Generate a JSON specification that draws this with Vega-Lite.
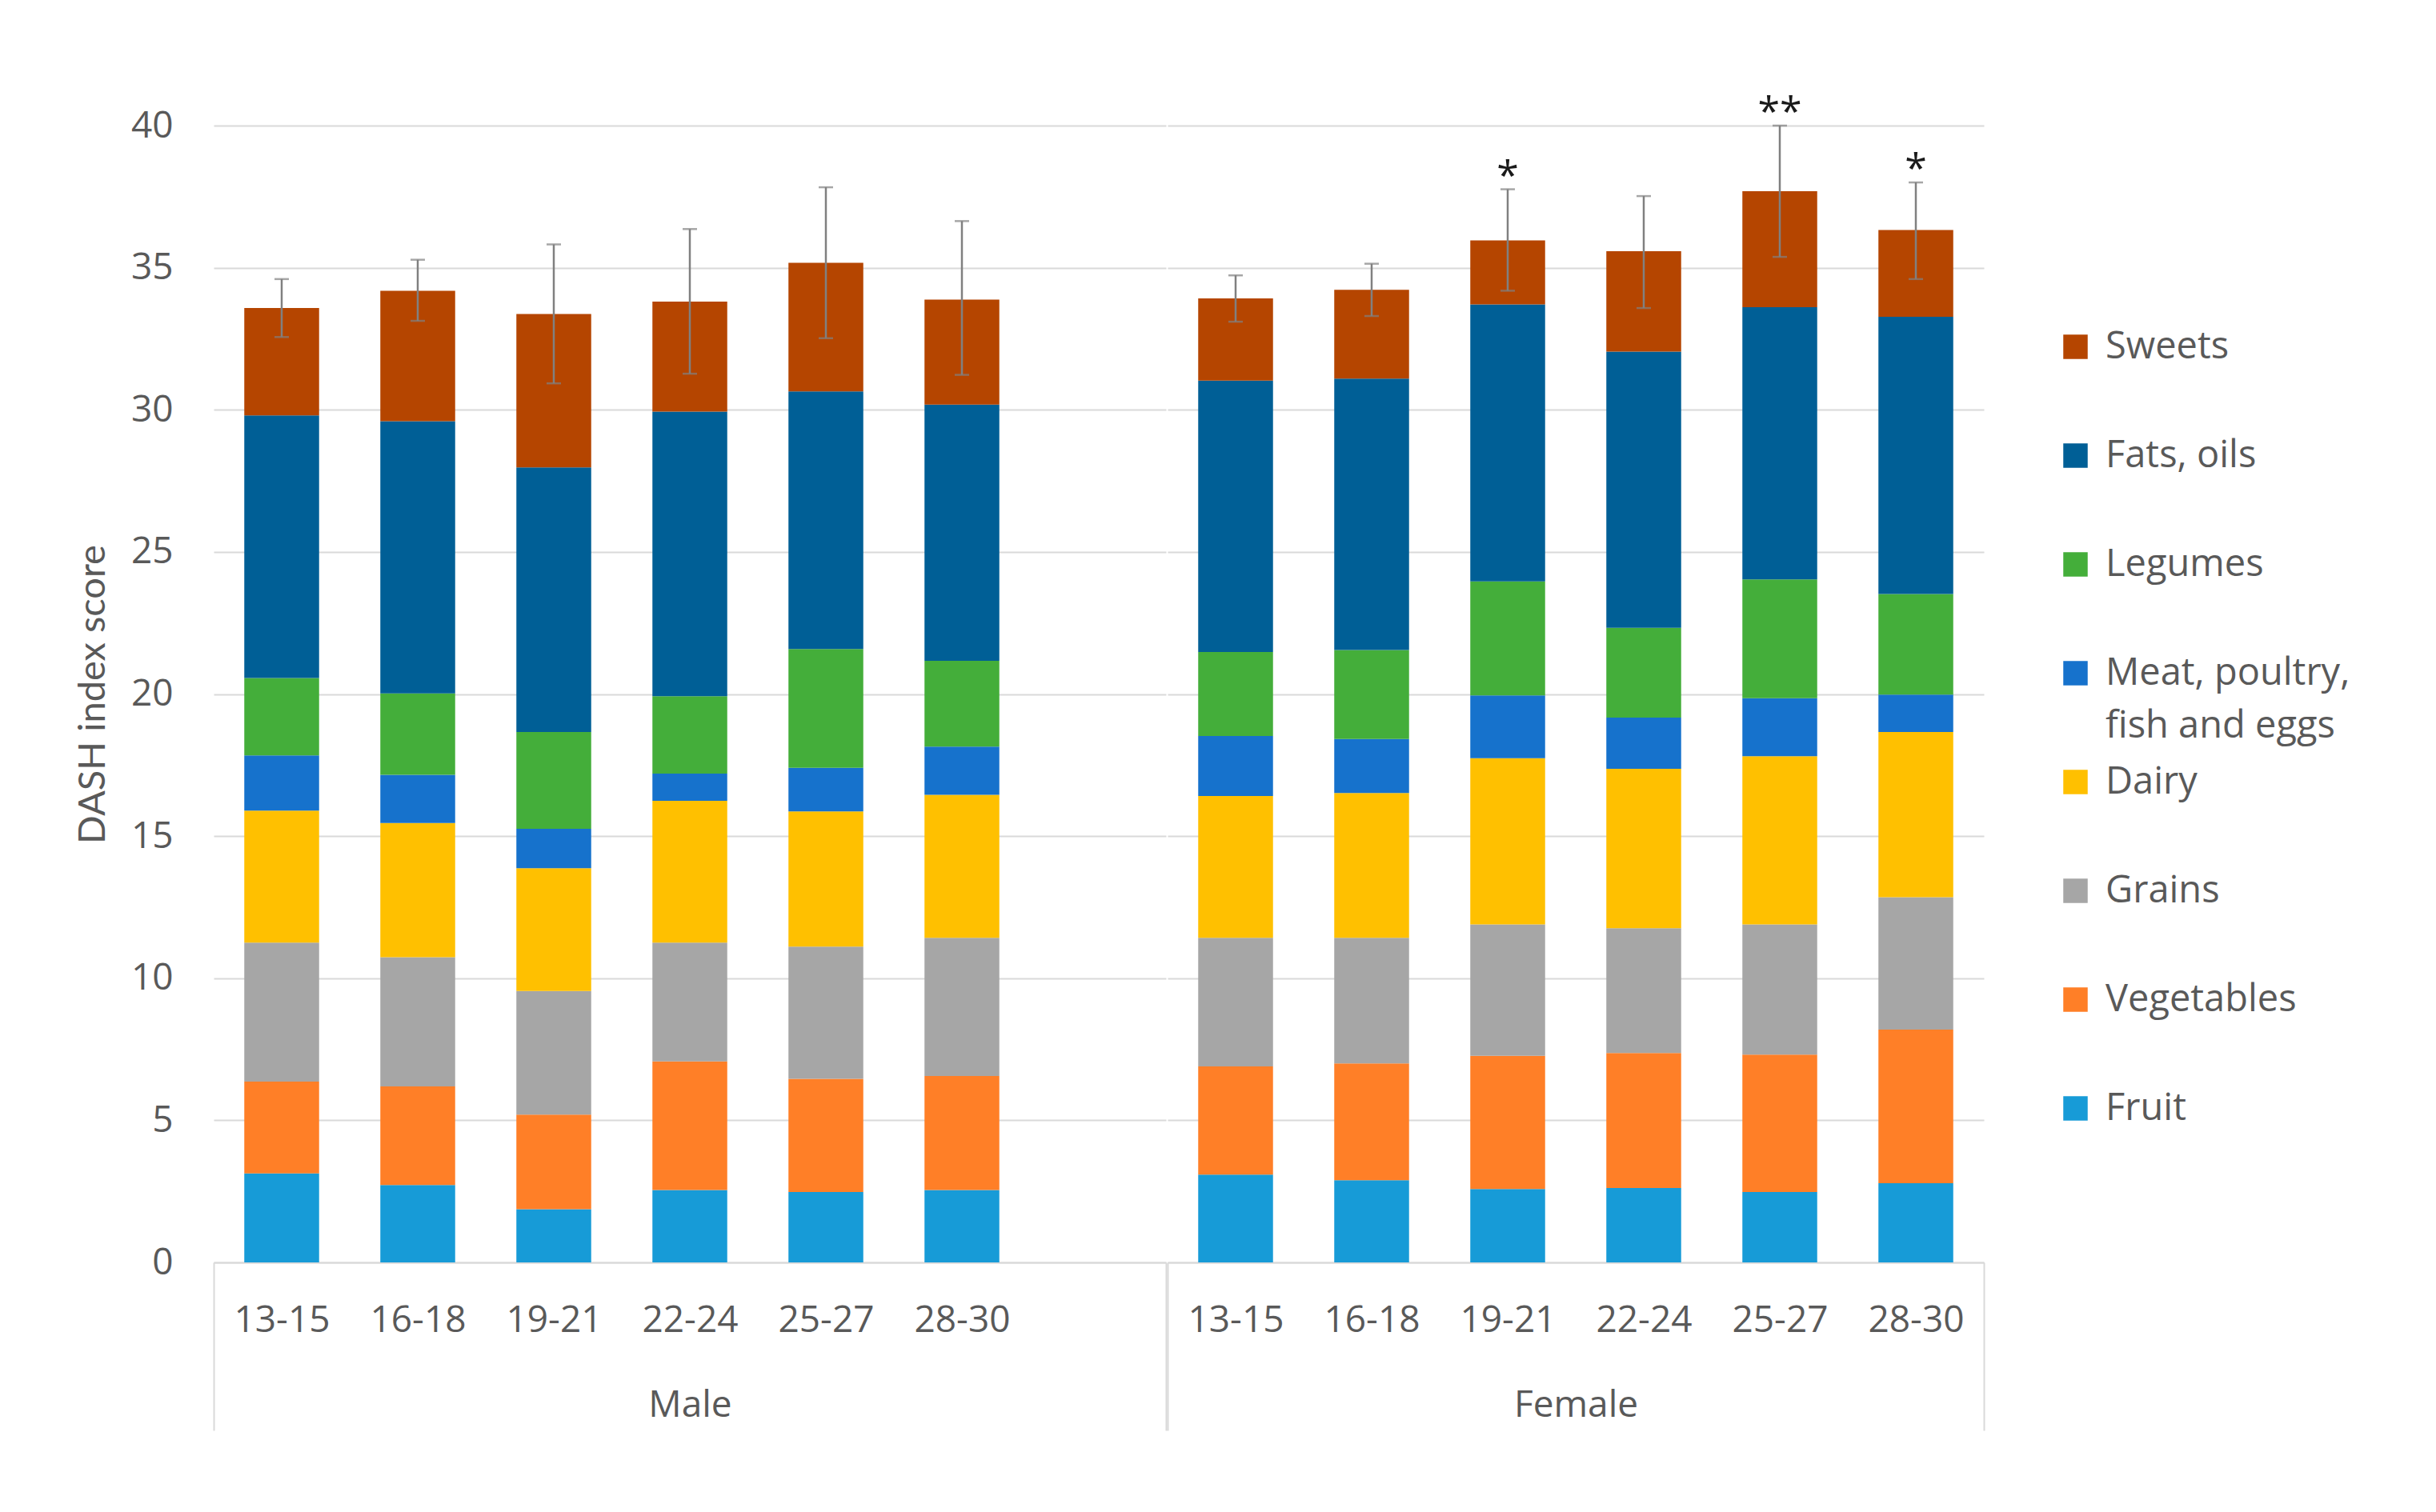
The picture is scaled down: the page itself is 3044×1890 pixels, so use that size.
{
  "$schema": "https://vega.github.io/schema/vega-lite/v6.json",
  "background": "white",
  "padding": {"left": 92, "top": 117, "right": 0, "bottom": 0},
  "spacing": 0,
  "datasets": {
    "parts": [
      {"sex":"Male","age":"13-15","food":"Fruit","rank":1,"value":3.13},
      {"sex":"Male","age":"13-15","food":"Vegetables","rank":2,"value":3.23},
      {"sex":"Male","age":"13-15","food":"Grains","rank":3,"value":4.89},
      {"sex":"Male","age":"13-15","food":"Dairy","rank":4,"value":4.65},
      {"sex":"Male","age":"13-15","food":"Meat, poultry, fish and eggs","rank":5,"value":1.94},
      {"sex":"Male","age":"13-15","food":"Legumes","rank":6,"value":2.72},
      {"sex":"Male","age":"13-15","food":"Fats, oils","rank":7,"value":9.24},
      {"sex":"Male","age":"13-15","food":"Sweets","rank":8,"value":3.78},
      {"sex":"Male","age":"16-18","food":"Fruit","rank":1,"value":2.72},
      {"sex":"Male","age":"16-18","food":"Vegetables","rank":2,"value":3.47},
      {"sex":"Male","age":"16-18","food":"Grains","rank":3,"value":4.55},
      {"sex":"Male","age":"16-18","food":"Dairy","rank":4,"value":4.72},
      {"sex":"Male","age":"16-18","food":"Meat, poultry, fish and eggs","rank":5,"value":1.70},
      {"sex":"Male","age":"16-18","food":"Legumes","rank":6,"value":2.86},
      {"sex":"Male","age":"16-18","food":"Fats, oils","rank":7,"value":9.58},
      {"sex":"Male","age":"16-18","food":"Sweets","rank":8,"value":4.59},
      {"sex":"Male","age":"19-21","food":"Fruit","rank":1,"value":1.87},
      {"sex":"Male","age":"19-21","food":"Vegetables","rank":2,"value":3.33},
      {"sex":"Male","age":"19-21","food":"Grains","rank":3,"value":4.35},
      {"sex":"Male","age":"19-21","food":"Dairy","rank":4,"value":4.32},
      {"sex":"Male","age":"19-21","food":"Meat, poultry, fish and eggs","rank":5,"value":1.39},
      {"sex":"Male","age":"19-21","food":"Legumes","rank":6,"value":3.40},
      {"sex":"Male","age":"19-21","food":"Fats, oils","rank":7,"value":9.31},
      {"sex":"Male","age":"19-21","food":"Sweets","rank":8,"value":5.40},
      {"sex":"Male","age":"22-24","food":"Fruit","rank":1,"value":2.55},
      {"sex":"Male","age":"22-24","food":"Vegetables","rank":2,"value":4.52},
      {"sex":"Male","age":"22-24","food":"Grains","rank":3,"value":4.18},
      {"sex":"Male","age":"22-24","food":"Dairy","rank":4,"value":4.99},
      {"sex":"Male","age":"22-24","food":"Meat, poultry, fish and eggs","rank":5,"value":0.96},
      {"sex":"Male","age":"22-24","food":"Legumes","rank":6,"value":2.72},
      {"sex":"Male","age":"22-24","food":"Fats, oils","rank":7,"value":10.02},
      {"sex":"Male","age":"22-24","food":"Sweets","rank":8,"value":3.87},
      {"sex":"Male","age":"25-27","food":"Fruit","rank":1,"value":2.48},
      {"sex":"Male","age":"25-27","food":"Vegetables","rank":2,"value":3.98},
      {"sex":"Male","age":"25-27","food":"Grains","rank":3,"value":4.65},
      {"sex":"Male","age":"25-27","food":"Dairy","rank":4,"value":4.76},
      {"sex":"Male","age":"25-27","food":"Meat, poultry, fish and eggs","rank":5,"value":1.53},
      {"sex":"Male","age":"25-27","food":"Legumes","rank":6,"value":4.18},
      {"sex":"Male","age":"25-27","food":"Fats, oils","rank":7,"value":9.07},
      {"sex":"Male","age":"25-27","food":"Sweets","rank":8,"value":4.52},
      {"sex":"Male","age":"28-30","food":"Fruit","rank":1,"value":2.55},
      {"sex":"Male","age":"28-30","food":"Vegetables","rank":2,"value":4.01},
      {"sex":"Male","age":"28-30","food":"Grains","rank":3,"value":4.86},
      {"sex":"Male","age":"28-30","food":"Dairy","rank":4,"value":5.03},
      {"sex":"Male","age":"28-30","food":"Meat, poultry, fish and eggs","rank":5,"value":1.70},
      {"sex":"Male","age":"28-30","food":"Legumes","rank":6,"value":3.02},
      {"sex":"Male","age":"28-30","food":"Fats, oils","rank":7,"value":9.01},
      {"sex":"Male","age":"28-30","food":"Sweets","rank":8,"value":3.70},
      {"sex":"Female","age":"13-15","food":"Fruit","rank":1,"value":3.09},
      {"sex":"Female","age":"13-15","food":"Vegetables","rank":2,"value":3.81},
      {"sex":"Female","age":"13-15","food":"Grains","rank":3,"value":4.52},
      {"sex":"Female","age":"13-15","food":"Dairy","rank":4,"value":4.99},
      {"sex":"Female","age":"13-15","food":"Meat, poultry, fish and eggs","rank":5,"value":2.11},
      {"sex":"Female","age":"13-15","food":"Legumes","rank":6,"value":2.96},
      {"sex":"Female","age":"13-15","food":"Fats, oils","rank":7,"value":9.55},
      {"sex":"Female","age":"13-15","food":"Sweets","rank":8,"value":2.89},
      {"sex":"Female","age":"16-18","food":"Fruit","rank":1,"value":2.89},
      {"sex":"Female","age":"16-18","food":"Vegetables","rank":2,"value":4.11},
      {"sex":"Female","age":"16-18","food":"Grains","rank":3,"value":4.42},
      {"sex":"Female","age":"16-18","food":"Dairy","rank":4,"value":5.10},
      {"sex":"Female","age":"16-18","food":"Meat, poultry, fish and eggs","rank":5,"value":1.90},
      {"sex":"Female","age":"16-18","food":"Legumes","rank":6,"value":3.13},
      {"sex":"Female","age":"16-18","food":"Fats, oils","rank":7,"value":9.55},
      {"sex":"Female","age":"16-18","food":"Sweets","rank":8,"value":3.12},
      {"sex":"Female","age":"19-21","food":"Fruit","rank":1,"value":2.58},
      {"sex":"Female","age":"19-21","food":"Vegetables","rank":2,"value":4.69},
      {"sex":"Female","age":"19-21","food":"Grains","rank":3,"value":4.62},
      {"sex":"Female","age":"19-21","food":"Dairy","rank":4,"value":5.85},
      {"sex":"Female","age":"19-21","food":"Meat, poultry, fish and eggs","rank":5,"value":2.21},
      {"sex":"Female","age":"19-21","food":"Legumes","rank":6,"value":4.01},
      {"sex":"Female","age":"19-21","food":"Fats, oils","rank":7,"value":9.75},
      {"sex":"Female","age":"19-21","food":"Sweets","rank":8,"value":2.25},
      {"sex":"Female","age":"22-24","food":"Fruit","rank":1,"value":2.62},
      {"sex":"Female","age":"22-24","food":"Vegetables","rank":2,"value":4.75},
      {"sex":"Female","age":"22-24","food":"Grains","rank":3,"value":4.39},
      {"sex":"Female","age":"22-24","food":"Dairy","rank":4,"value":5.61},
      {"sex":"Female","age":"22-24","food":"Meat, poultry, fish and eggs","rank":5,"value":1.80},
      {"sex":"Female","age":"22-24","food":"Legumes","rank":6,"value":3.16},
      {"sex":"Female","age":"22-24","food":"Fats, oils","rank":7,"value":9.72},
      {"sex":"Female","age":"22-24","food":"Sweets","rank":8,"value":3.53},
      {"sex":"Female","age":"25-27","food":"Fruit","rank":1,"value":2.48},
      {"sex":"Female","age":"25-27","food":"Vegetables","rank":2,"value":4.83},
      {"sex":"Female","age":"25-27","food":"Grains","rank":3,"value":4.58},
      {"sex":"Female","age":"25-27","food":"Dairy","rank":4,"value":5.92},
      {"sex":"Female","age":"25-27","food":"Meat, poultry, fish and eggs","rank":5,"value":2.04},
      {"sex":"Female","age":"25-27","food":"Legumes","rank":6,"value":4.18},
      {"sex":"Female","age":"25-27","food":"Fats, oils","rank":7,"value":9.58},
      {"sex":"Female","age":"25-27","food":"Sweets","rank":8,"value":4.08},
      {"sex":"Female","age":"28-30","food":"Fruit","rank":1,"value":2.79},
      {"sex":"Female","age":"28-30","food":"Vegetables","rank":2,"value":5.40},
      {"sex":"Female","age":"28-30","food":"Grains","rank":3,"value":4.66},
      {"sex":"Female","age":"28-30","food":"Dairy","rank":4,"value":5.81},
      {"sex":"Female","age":"28-30","food":"Meat, poultry, fish and eggs","rank":5,"value":1.32},
      {"sex":"Female","age":"28-30","food":"Legumes","rank":6,"value":3.54},
      {"sex":"Female","age":"28-30","food":"Fats, oils","rank":7,"value":9.75},
      {"sex":"Female","age":"28-30","food":"Sweets","rank":8,"value":3.06}
    ],
    "totals": [
      {"sex":"Male","age":"13-15","lo":32.56,"hi":34.60,"sig":""},
      {"sex":"Male","age":"16-18","lo":33.13,"hi":35.28,"sig":""},
      {"sex":"Male","age":"19-21","lo":30.93,"hi":35.82,"sig":""},
      {"sex":"Male","age":"22-24","lo":31.27,"hi":36.36,"sig":""},
      {"sex":"Male","age":"25-27","lo":32.52,"hi":37.83,"sig":""},
      {"sex":"Male","age":"28-30","lo":31.23,"hi":36.64,"sig":""},
      {"sex":"Female","age":"13-15","lo":33.10,"hi":34.73,"sig":""},
      {"sex":"Female","age":"16-18","lo":33.30,"hi":35.14,"sig":""},
      {"sex":"Female","age":"19-21","lo":34.19,"hi":37.76,"sig":"*"},
      {"sex":"Female","age":"22-24","lo":33.58,"hi":37.52,"sig":""},
      {"sex":"Female","age":"25-27","lo":35.38,"hi":40.00,"sig":"**"},
      {"sex":"Female","age":"28-30","lo":34.60,"hi":38.00,"sig":"*"}
    ]
  },
  "hconcat": [
    {
      "width": 1190,
      "height": 1421,
      "layer": [
        {
          "data": {"name": "parts"},
          "transform": [{"filter": "datum.sex === 'Male'"}],
          "mark": {"type": "bar", "width": {"band": 0.55}},
          "encoding": {
            "x": {
              "field": "age", "type": "nominal", "title": "Male",
              "scale": {"domain": ["13-15","16-18","19-21","22-24","25-27","28-30","gap"], "paddingInner": 0, "paddingOuter": 0},
              "axis": {
                "labelExpr": "datum.value === 'gap' ? '' : datum.label",
                "labelAngle": 0, "labelFont": "Open Sans", "labelFontSize": 46, "labelColor": "#595959",
                "labelPadding": -160, "labelOverlap": false,
                "tickBand": "extent", "tickSize": 210, "tickWidth": 2,
                "tickColor": {"condition": {"test": "datum.extra || datum.value === 'gap'", "value": "#D9D9D9"}, "value": "transparent"},
                "domainColor": "#D9D9D9", "domainWidth": 2, "grid": false,
                "titleFont": "Open Sans", "titleFontSize": 46, "titleFontWeight": "normal", "titleColor": "#595959",
                "titleY": 178, "titleBaseline": "middle"
              }
            },
            "y": {
              "field": "value", "type": "quantitative", "stack": "zero", "title": "DASH index score",
              "scale": {"domain": [0, 40], "nice": false},
              "axis": {
                "values": [0,5,10,15,20,25,30,35,40],
                "grid": true, "gridColor": "#D9D9D9", "gridWidth": 2,
                "domain": false, "ticks": false, "tickSize": 0, "labelPadding": 51,
                "labelFont": "Open Sans", "labelFontSize": 46, "labelColor": "#595959",
                "titleFont": "Lato", "titleFontSize": 47, "titleFontWeight": "normal", "titleColor": "#595959",
                "titlePadding": 23
              }
            },
            "color": {
              "field": "food", "type": "nominal",
              "scale": {
                "domain": ["Sweets","Fats, oils","Legumes","Meat, poultry, fish and eggs","Dairy","Grains","Vegetables","Fruit"],
                "range": ["#B54500","#005F96","#44AE3A","#1672CC","#FFC000","#A6A6A6","#FF7F27","#179BD7"]
              },
              "legend": {
                "orient": "none", "legendX": 2303, "legendY": 253, "title": null, "padding": 0,
                "symbolType": "square", "symbolSize": 930, "symbolStrokeWidth": 0,
                "labelFont": "Open Sans", "labelFontSize": 47, "labelColor": "#595959",
                "labelOffset": 14, "rowPadding": 22, "labelLimit": 800,
                "labelExpr": "datum.label === 'Meat, poultry, fish and eggs' ? ['Meat, poultry,', 'fish and eggs'] : [datum.label, '']"
              }
            },
            "order": {"field": "rank", "type": "quantitative", "sort": "ascending"}
          }
        },
        {
          "data": {"name": "totals"},
          "transform": [{"filter": "datum.sex === 'Male'"}],
          "mark": {"type": "errorbar", "color": "#808080", "thickness": 2.5, "ticks": {"size": 18}},
          "encoding": {
            "x": {"field": "age", "type": "nominal", "title": "Male"},
            "y": {"field": "lo", "type": "quantitative", "title": "DASH index score"},
            "y2": {"field": "hi"}
          }
        }
      ]
    },
    {
      "width": 1020,
      "height": 1421,
      "layer": [
        {
          "data": {"name": "parts"},
          "transform": [{"filter": "datum.sex === 'Female'"}],
          "mark": {"type": "bar", "width": {"band": 0.55}},
          "encoding": {
            "x": {
              "field": "age", "type": "nominal", "title": "Female",
              "scale": {"domain": ["13-15","16-18","19-21","22-24","25-27","28-30"], "paddingInner": 0, "paddingOuter": 0},
              "axis": {
                "labelAngle": 0, "labelFont": "Open Sans", "labelFontSize": 46, "labelColor": "#595959",
                "labelPadding": -160, "labelOverlap": false,
                "tickBand": "extent", "tickSize": 210, "tickWidth": 2,
                "tickColor": {"condition": {"test": "datum.extra || datum.value === '28-30'", "value": "#D9D9D9"}, "value": "transparent"},
                "domainColor": "#D9D9D9", "domainWidth": 2, "grid": false,
                "titleFont": "Open Sans", "titleFontSize": 46, "titleFontWeight": "normal", "titleColor": "#595959",
                "titleY": 178, "titleBaseline": "middle"
              }
            },
            "y": {
              "field": "value", "type": "quantitative", "stack": "zero", "title": null,
              "scale": {"domain": [0, 40], "nice": false},
              "axis": {
                "values": [0,5,10,15,20,25,30,35,40],
                "grid": true, "gridColor": "#D9D9D9", "gridWidth": 2,
                "domain": false, "ticks": false, "labels": false
              }
            },
            "color": {"field": "food", "type": "nominal"},
            "order": {"field": "rank", "type": "quantitative", "sort": "ascending"}
          }
        },
        {
          "data": {"name": "totals"},
          "transform": [{"filter": "datum.sex === 'Female'"}],
          "mark": {"type": "errorbar", "color": "#808080", "thickness": 2.5, "ticks": {"size": 18}},
          "encoding": {
            "x": {"field": "age", "type": "nominal", "title": "Female"},
            "y": {"field": "lo", "type": "quantitative", "title": null},
            "y2": {"field": "hi"}
          }
        },
        {
          "data": {"name": "totals"},
          "transform": [{"filter": "datum.sex === 'Female' && datum.sig !== ''"}],
          "mark": {"type": "text", "font": "Open Sans", "fontSize": 50, "color": "#1a1a1a", "baseline": "alphabetic", "align": "center"},
          "encoding": {
            "x": {"field": "age", "type": "nominal", "title": "Female"},
            "y": {"field": "hi", "type": "quantitative", "title": null},
            "text": {"field": "sig"}
          }
        }
      ]
    }
  ],
  "config": {
    "view": {"stroke": null},
    "style": {"guide-label": {"lineHeight": 66}}
  }
}
